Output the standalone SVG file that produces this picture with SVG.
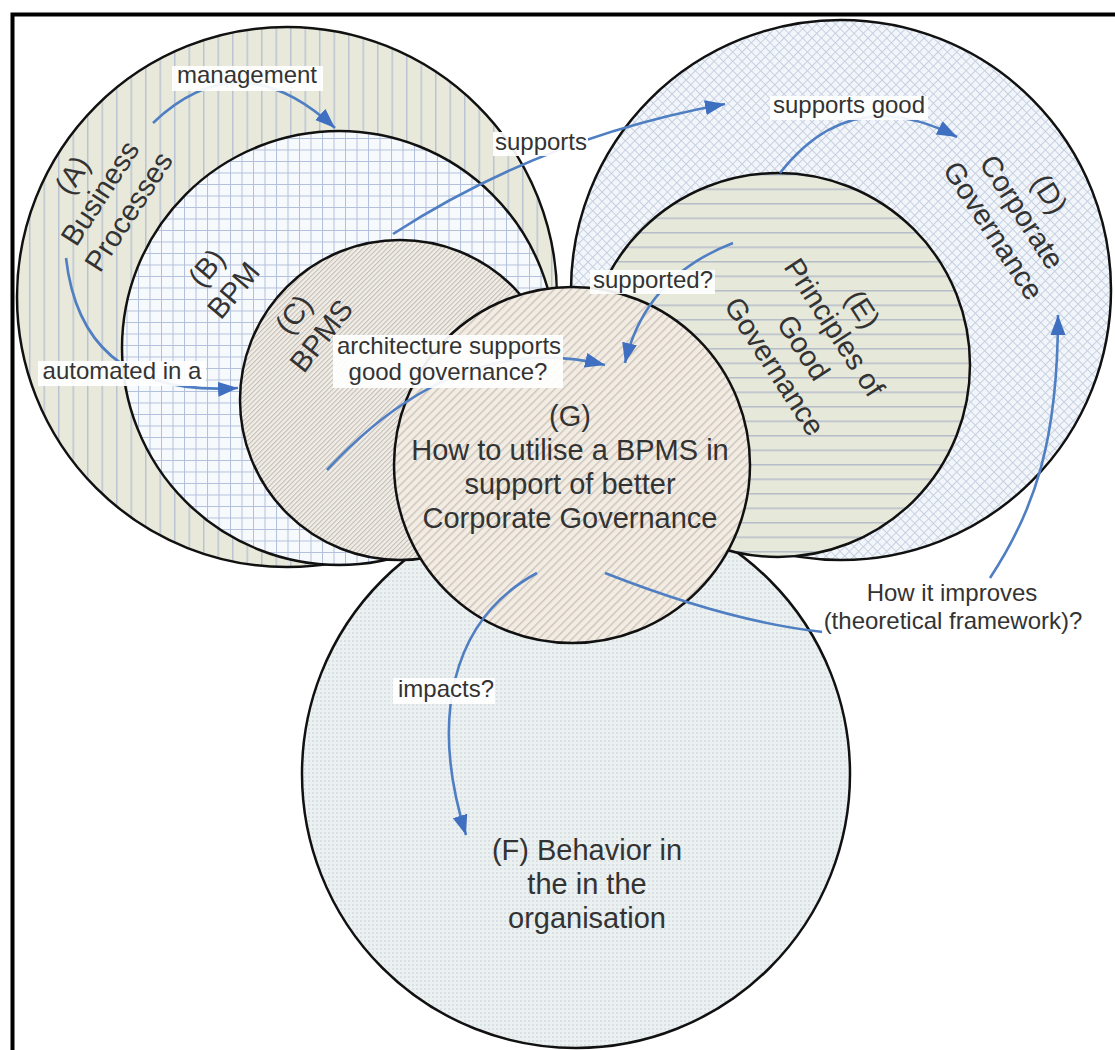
<svg xmlns="http://www.w3.org/2000/svg" width="1115" height="1050" viewBox="0 0 1115 1050">
<style>
.circ{stroke:#111;stroke-width:2.5}
.nl{font-family:"Liberation Sans",Arial,sans-serif;font-size:29px;fill:#333;text-anchor:middle}
.el{font-family:"Liberation Sans",Arial,sans-serif;font-size:24px;fill:#333;text-anchor:middle}
.bg{fill:#fff;fill-opacity:0.92}
.con{fill:none;stroke:#4f7fc2;stroke-width:2.6}
</style>
<defs>
<pattern id="pA" patternUnits="userSpaceOnUse" width="14.5" height="10"><rect width="14.5" height="10" fill="#e8e9da"/><line x1="0.75" y1="0" x2="0.75" y2="10" stroke="#b4bfd2" stroke-width="1.3"/></pattern>
<pattern id="pB" patternUnits="userSpaceOnUse" width="11.5" height="11.5"><rect width="11.5" height="11.5" fill="#f7fafd"/><path d="M0 0.5H11.5M0.5 0V11.5" stroke="#b2c0dc" stroke-width="1"/></pattern>
<pattern id="pC" patternUnits="userSpaceOnUse" width="3.4" height="10" patternTransform="rotate(45)"><rect width="3.4" height="10" fill="#f0ece6"/><line x1="0.5" y1="0" x2="0.5" y2="10" stroke="#c2bbb3" stroke-width="1"/></pattern>
<pattern id="pD" patternUnits="userSpaceOnUse" width="6.6" height="6.6" patternTransform="rotate(45)"><rect width="6.6" height="6.6" fill="#f2f6fb"/><path d="M0 0.5H6.6M0.5 0V6.6" stroke="#c6d0e0" stroke-width="1"/></pattern>
<pattern id="pE" patternUnits="userSpaceOnUse" width="10" height="14.5"><rect width="10" height="14.5" fill="#e6e8da"/><line x1="0" y1="0.75" x2="10" y2="0.75" stroke="#b6bcc8" stroke-width="1.5"/></pattern>
<pattern id="pG" patternUnits="userSpaceOnUse" width="5.9" height="10" patternTransform="rotate(45)"><rect width="5.9" height="10" fill="#f2ece3"/><line x1="0.7" y1="0" x2="0.7" y2="10" stroke="#c6beb6" stroke-width="1.2"/></pattern>
<pattern id="pF" patternUnits="userSpaceOnUse" width="4" height="4"><rect width="4" height="4" fill="#ebf0f1"/><circle cx="1" cy="1" r="0.75" fill="#c2cacf"/></pattern>
<marker id="arr" markerUnits="userSpaceOnUse" markerWidth="22" markerHeight="16" refX="20" refY="8" orient="auto"><path d="M0,0.5 L20,8 L0,15.5 Z" fill="#3f6fc0"/></marker>
</defs>
<rect width="1115" height="1050" fill="#fff"/>

<g id="node-F">
<circle class="circ" cx="576" cy="774" r="274" fill="url(#pF)"/>
<text class="nl" x="587" y="860">(F) Behavior in</text>
<text class="nl" x="587" y="894">the in the</text>
<text class="nl" x="587" y="928">organisation</text>
</g>
<g id="node-A">
<circle class="circ" cx="287" cy="297" r="270" fill="url(#pA)"/>
<g transform="translate(100,193) rotate(-57)">
<text class="nl" x="0" y="-23">(A)</text>
<text class="nl" x="0" y="10">Business</text>
<text class="nl" x="0" y="44">Processes</text>
</g>
</g>
<g id="node-B">
<circle class="circ" cx="339" cy="348" r="217" fill="url(#pB)"/>
<g transform="translate(220,279) rotate(-50)">
<text class="nl" x="0" y="-7.5">(B)</text>
<text class="nl" x="0" y="27.5">BPM</text>
</g>
</g>
<g id="node-C">
<circle class="circ" cx="400" cy="400" r="160" fill="url(#pC)"/>
<g transform="translate(307.5,325) rotate(-52)">
<text class="nl" x="0" y="-7.5">(C)</text>
<text class="nl" x="0" y="27.5">BPMS</text>
</g>
</g>
<g id="node-D">
<circle class="circ" cx="841" cy="290" r="270" fill="url(#pD)"/>
<g transform="translate(1022,212) rotate(57)">
<text class="nl" x="0" y="-23">(D)</text>
<text class="nl" x="0" y="10">Corporate</text>
<text class="nl" x="0" y="44">Governance</text>
</g>
</g>
<g id="node-E">
<circle class="circ" cx="778" cy="365" r="192" fill="url(#pE)"/>
<g transform="translate(819,337.5) rotate(57)">
<text class="nl" x="0" y="-42">(E)</text>
<text class="nl" x="0" y="-8.5">Principles of</text>
<text class="nl" x="0" y="28.5">Good</text>
<text class="nl" x="0" y="63">Governance</text>
</g>
</g>
<g id="node-G">
<circle class="circ" cx="572" cy="465" r="178" fill="url(#pG)"/>
<text class="nl" x="570" y="426">(G)</text>
<text class="nl" x="570" y="460">How to utilise a BPMS in</text>
<text class="nl" x="570" y="494">support of better</text>
<text class="nl" x="570" y="528">Corporate Governance</text>
</g>

<g id="connectors">
<path class="con" d="M153,123 Q240,40 335,128" marker-end="url(#arr)"/>
<path class="con" d="M66,258 Q82,398 238,388" marker-end="url(#arr)"/>
<path class="con" d="M393,234 Q543,137 725,104" marker-end="url(#arr)"/>
<path class="con" d="M780,173 Q851,82 957,137" marker-end="url(#arr)"/>
<path class="con" d="M733,243 Q645,277 625,363" marker-end="url(#arr)"/>
<path class="con" d="M327,470 Q458,329 605,365" marker-end="url(#arr)"/>
<path class="con" d="M605,573 Q730,622 823,632"/>
<path class="con" d="M990,578 C1035,510 1058,440 1058,315" marker-end="url(#arr)"/>
<path class="con" d="M537,573 C450,620 430,720 466,835" marker-end="url(#arr)"/>
</g>

<g id="edge-labels">
<rect class="bg" x="172" y="66" width="151" height="25"/>
<text class="el" x="247" y="83">management</text>
<rect class="bg" x="493" y="132" width="95" height="24"/>
<text class="el" x="541" y="150">supports</text>
<rect class="bg" x="770" y="96" width="158" height="24"/>
<text class="el" x="849" y="113">supports good</text>
<rect class="bg" x="590" y="270" width="125" height="24"/>
<text class="el" x="653" y="288">supported?</text>
<rect class="bg" x="333" y="335" width="230" height="53"/>
<text class="el" x="449" y="354">architecture supports</text>
<text class="el" x="448" y="380">good governance?</text>
<rect class="bg" x="38" y="361" width="168" height="25"/>
<text class="el" x="122" y="379">automated in a</text>
<rect class="bg" x="393" y="678" width="102" height="26"/>
<text class="el" x="446" y="697">impacts?</text>
<rect class="bg" x="822" y="582" width="266" height="56"/>
<text class="el" x="952" y="601">How it improves</text>
<text class="el" x="953" y="629">(theoretical framework)?</text>
</g>

<rect x="12.5" y="14.5" width="1115" height="1050" fill="none" stroke="#000" stroke-width="4"/>
</svg>
